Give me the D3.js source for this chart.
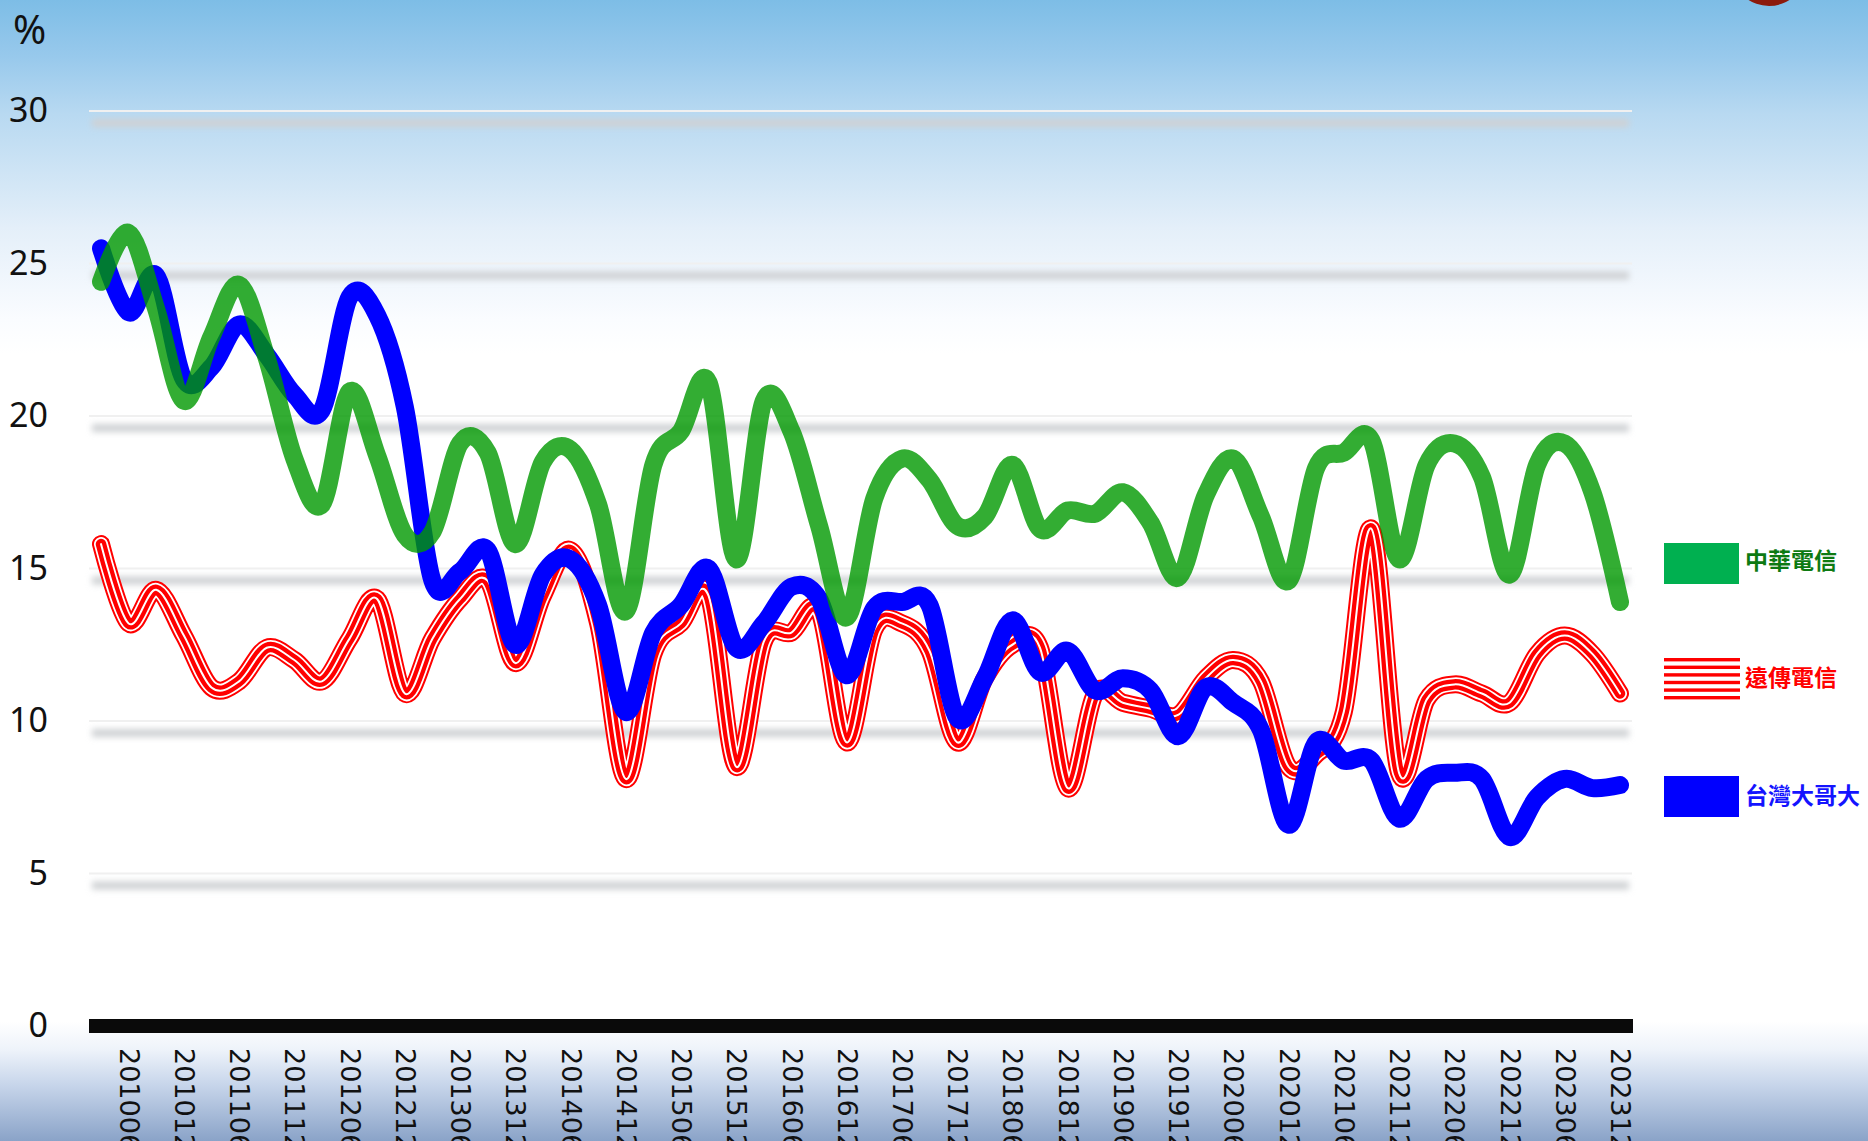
<!DOCTYPE html>
<html>
<head>
<meta charset="utf-8">
<script src="https://cdn.jsdelivr.net/npm/d3@7"></script>
<style>
  html, body { margin: 0; padding: 0; overflow: hidden; background: #fff; }
</style>
</head>
<body>
<div id="chart"></div>
<script>
// quarterly percentages
var quarters = [
  "201003","201006","201009","201012","201103","201106","201109","201112",
  "201203","201206","201209","201212","201303","201306","201309","201312",
  "201403","201406","201409","201412","201503","201506","201509","201512",
  "201603","201606","201609","201612","201703","201706","201709","201712",
  "201803","201806","201809","201812","201903","201906","201909","201912",
  "202003","202006","202009","202012","202103","202106","202109","202112",
  "202203","202206","202209","202212","202303","202306","202309","202312"
];

var cht = [24.4, 26.0, 23.5, 20.5, 22.6, 24.3, 21.9, 18.6, 17.1, 20.8, 18.7, 16.1, 16.2, 19.1,
  18.8, 15.8, 18.5, 18.9, 17.1, 13.6, 18.4, 19.5, 21.1, 15.3, 20.5, 19.5, 16.4, 13.4,
  17.3, 18.6, 17.9, 16.4, 16.7, 18.4, 16.3, 16.9, 16.8, 17.5, 16.5, 14.7, 17.4, 18.6,
  16.7, 14.6, 18.3, 18.8, 19.2, 15.3, 18.4, 19.1, 18.0, 14.8, 18.4, 19.1, 17.5, 13.9];

var fet = [15.8, 13.2, 14.3, 12.8, 11.1, 11.3, 12.4, 12.0, 11.3, 12.7, 14.0, 10.9, 12.7, 14.0,
  14.6, 11.9, 14.1, 15.6, 13.2, 8.1, 12.2, 13.2, 14.1, 8.5, 12.6, 12.9, 13.6, 9.3,
  13.0, 13.2, 12.3, 9.3, 11.4, 12.5, 12.4, 7.8, 10.9, 10.6, 10.4, 10.2, 11.4, 12.0,
  11.3, 8.5, 8.9, 10.3, 16.3, 8.3, 10.7, 11.2, 10.9, 10.6, 12.2, 12.8, 12.2, 10.9];

var twm = [25.5, 23.4, 24.6, 21.2, 21.6, 23.0, 22.0, 20.7, 20.2, 23.9, 23.3, 20.3, 14.6, 14.9,
  15.6, 12.5, 14.8, 15.3, 13.8, 10.3, 12.9, 13.8, 15.0, 12.4, 13.2, 14.4, 14.0, 11.5,
  13.7, 13.9, 13.8, 10.1, 11.4, 13.3, 11.6, 12.3, 11.0, 11.4, 11.0, 9.5, 11.1, 10.6,
  9.7, 6.6, 9.3, 8.7, 8.7, 6.8, 8.1, 8.3, 8.1, 6.2, 7.5, 8.1, 7.8, 7.9];

var yTicks = [0, 5, 10, 15, 20, 25, 30];
var xTickLabels = quarters.filter(function(d, i) { return i % 2 === 1; });
var names = ["中華電信", "遠傳電信", "台灣大哥大"];

var width = 1868,
height = 1141;

var svg = d3.select("#chart").append("svg")
  .attr("width", width)
  .attr("height", height);

var defs = svg.append("defs");

var bg = defs.append("linearGradient")
  .attr("id", "bg")
  .attr("x1", 0).attr("y1", 0).attr("x2", 0).attr("y2", 1);
[[0, "#7dbde6"], [0.05, "#98c9ec"], [0.1, "#b8d9f1"], [0.2, "#e4eff9"],
 [0.28, "#fafcff"], [0.31, "#ffffff"], [0.895, "#ffffff"], [0.92, "#eef3fa"],
 [0.95, "#c8d6eb"], [1, "#8aa3c8"]].forEach(function(s) {
  bg.append("stop").attr("offset", s[0]).attr("stop-color", s[1]);
});

defs.append("filter")
  .attr("id", "blur")
  .attr("filterUnits", "userSpaceOnUse")
  .attr("x", 0).attr("y", 0).attr("width", width).attr("height", height)
  .append("feGaussianBlur")
  .attr("stdDeviation", 3);

svg.append("rect")
  .attr("width", width)
  .attr("height", height)
  .attr("fill", "url(#bg)");

// bit of a logo peeking in at the top right
svg.append("ellipse")
  .attr("cx", 1769).attr("cy", -22)
  .attr("rx", 33).attr("ry", 28)
  .attr("fill", "#8c1a0c");

var x = d3.scalePoint()
  .domain(quarters)
  .range([101, 1620]);

var y = d3.scaleLinear()
  .domain([0, 30])
  .range([1026, 111]);

// grid: pale line plus a soft grey shadow under it
var gridTicks = yTicks.filter(function(d) { return d > 0; });
var grid = svg.append("g");
grid.append("g")
  .attr("filter", "url(#blur)")
  .selectAll("rect")
  .data(gridTicks)
  .enter().append("rect")
  .attr("x", 92).attr("width", 1537)
  .attr("y", function(d) { return y(d) + 8; })
  .attr("height", 8)
  .attr("fill", "#cfd1d4");
grid.selectAll("line")
  .data(gridTicks)
  .enter().append("line")
  .attr("x1", 89).attr("x2", 1632)
  .attr("y1", function(d) { return y(d); })
  .attr("y2", function(d) { return y(d); })
  .attr("stroke", "#f0f0f0")
  .attr("stroke-width", 2);

var yAxis = svg.append("g")
  .attr("transform", "translate(48,0)")
  .call(d3.axisLeft(y).tickValues(yTicks).tickSize(0).tickPadding(0));
yAxis.select(".domain").remove();
yAxis.selectAll("text")
  .attr("font-family", "'Noto Sans', 'Open Sans', sans-serif")
  .attr("font-size", 34)
  .attr("fill", "#111");

svg.append("text")
  .attr("x", 13).attr("y", 30)
  .attr("dy", "0.35em")
  .attr("font-family", "'Noto Sans', 'Open Sans', sans-serif")
  .attr("font-size", 40)
  .attr("fill", "#111")
  .text("%");

var xAxis = svg.append("g")
  .attr("transform", "translate(0," + y(0) + ")")
  .call(d3.axisBottom(x).tickValues(xTickLabels).tickSize(0));
xAxis.select(".domain").remove();
xAxis.selectAll("text")
  .attr("font-family", "'DejaVu Sans', sans-serif")
  .attr("font-size", 27)
  .attr("fill", "#111")
  .attr("text-anchor", "start")
  .attr("x", 22)
  .attr("y", 0)
  .attr("dy", "0.35em")
  .attr("transform", "rotate(90)");

svg.append("line")
  .attr("x1", 89).attr("x2", 1633)
  .attr("y1", y(0)).attr("y2", y(0))
  .attr("stroke", "#0a0a0a")
  .attr("stroke-width", 14);

var line = d3.line()
  .x(function(d, i) { return x(quarters[i]); })
  .y(function(d) { return y(d); })
  .curve(d3.curveCatmullRom.alpha(0));

var lines = svg.append("g")
  .attr("fill", "none")
  .attr("stroke-linecap", "round")
  .attr("stroke-linejoin", "round");

// 遠傳: compound red/white stroke
[["#ff0000", 18], ["#ffffff", 14], ["#ff0000", 10.5], ["#ffffff", 2]].forEach(function(s) {
  lines.append("path")
    .attr("d", line(fet))
    .attr("stroke", s[0])
    .attr("stroke-width", s[1]);
});

lines.append("path")
  .attr("d", line(twm))
  .attr("stroke", "#0000ff")
  .attr("stroke-width", 18);

lines.append("path")
  .attr("d", line(cht))
  .attr("stroke", "#009800")
  .attr("stroke-opacity", 0.8)
  .attr("stroke-width", 18);

// legend
var legend = svg.append("g");
var lx = 1664, sw = 75;

legend.append("rect")
  .attr("x", lx).attr("y", 543)
  .attr("width", sw).attr("height", 41)
  .attr("fill", "#00b050");

[658, 665.6, 673.2, 680.8, 688.4, 696].forEach(function(yy) {
  legend.append("rect")
    .attr("x", lx).attr("y", yy)
    .attr("width", sw + 1).attr("height", 3.4)
    .attr("fill", "#ff0000");
});

legend.append("rect")
  .attr("x", lx).attr("y", 776)
  .attr("width", sw).attr("height", 41)
  .attr("fill", "#0000ff");

var legendText = [[names[0], 561, "#0d7a12"], [names[1], 678, "#ff0000"], [names[2], 796, "#1414ff"]];
legend.selectAll("text")
  .data(legendText)
  .enter().append("text")
  .attr("x", 1745)
  .attr("y", function(d) { return d[1]; })
  .attr("dy", "0.36em")
  .attr("font-family", "'Noto Sans CJK TC', 'Noto Sans CJK SC', sans-serif")
  .attr("font-weight", "bold")
  .attr("font-size", 23)
  .attr("fill", function(d) { return d[2]; })
  .text(function(d) { return d[0]; });
</script>
</body>
</html>
